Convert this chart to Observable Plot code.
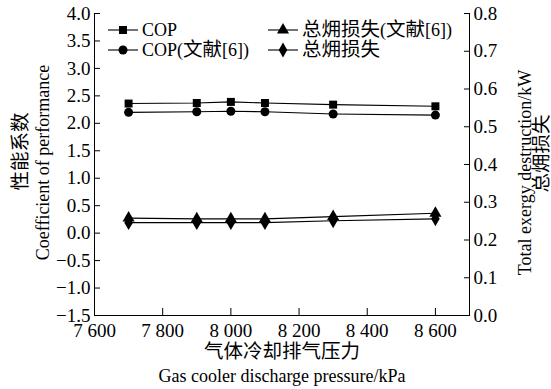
<!DOCTYPE html>
<html><head><meta charset="utf-8">
<script src="https://cdn.jsdelivr.net/npm/d3@7"></script>
<script src="https://cdn.jsdelivr.net/npm/@observablehq/plot@0.6"></script>
<style>
body{margin:0;background:#fff;}
</style></head><body><div id="chart"></div>
<script>
// Data
const pressure = [7700, 7900, 8000, 8100, 8300, 8600];
const cop = [2.36, 2.37, 2.39, 2.37, 2.34, 2.31];
const copRef = [2.20, 2.21, 2.22, 2.21, 2.17, 2.15];
const exergyRef = [0.258, 0.256, 0.256, 0.256, 0.262, 0.271];
const exergy = [0.246, 0.246, 0.246, 0.246, 0.251, 0.256];
const xTicks = [7600, 7800, 8000, 8200, 8400, 8600];
const yLeftTicks = [-1.5, -1.0, -0.5, 0.0, 0.5, 1.0, 1.5, 2.0, 2.5, 3.0, 3.5, 4.0];
const yRightTicks = [0.0, 0.1, 0.2, 0.3, 0.4, 0.5, 0.6, 0.7, 0.8];
const seriesNames = ["COP", "COP(文献[6])", "总㶲损失(文献[6])", "总㶲损失"];
const seriesSymbols = ["square", "circle", "triangle", "diamond"];
const xDomain = [7600, 8700];
const yLeftDomain = [-1.5, 4.0];
const yRightDomain = [0.0, 0.8];

const FONT = "Liberation Serif, Times New Roman, Times, DejaVu Serif, Noto Sans CJK SC, serif";
const k = (yLeftDomain[1] - yLeftDomain[0]) / (yRightDomain[1] - yRightDomain[0]);
const toLeft = v => yLeftDomain[0] + (v - yRightDomain[0]) * k;
const fromLeft = y => yRightDomain[0] + (y - yLeftDomain[0]) / k;

const seriesValues = [cop, copRef, exergyRef.map(toLeft), exergy.map(toLeft)];
const rows = [];
seriesNames.forEach((name, i) => {
  pressure.forEach((p, j) => rows.push({series: name, symbol: seriesSymbols[i], x: p, y: seriesValues[i][j]}));
});

const fmt1 = d3.format(".1f");
const fmtX = d => d3.format(",")(d).replace(",", " ");
const labelStyle = {fontSize: 18, fontFamily: FONT, textAnchor: "middle", lineAnchor: "middle"};
const cjkStyle = {...labelStyle, fontSize: 19.5};

const chart = Plot.plot({
  width: 551,
  height: 389,
  marginTop: 13,
  marginBottom: 74,
  marginLeft: 94,
  marginRight: 82,
  style: {fontFamily: FONT, fontSize: "19px", background: "white", color: "black"},
  x: {domain: xDomain, label: null},
  y: {domain: yLeftDomain, label: null},
  symbol: {domain: seriesSymbols, range: seriesSymbols},
  marks: [
    Plot.ruleX(xDomain, {stroke: "black", strokeWidth: 1}),
    Plot.ruleY([yLeftDomain[0]], {stroke: "black", strokeWidth: 1}),
    Plot.axisX(xTicks, {tickSize: -7, tickPadding: 15, tickFormat: fmtX, fontSize: 19, fontFamily: FONT}),
    Plot.axisY(yLeftTicks, {anchor: "left", tickSize: -6, tickPadding: 10, tickFormat: fmt1, fontSize: 19, fontFamily: FONT}),
    Plot.axisY(yRightTicks.map(toLeft), {anchor: "right", tickSize: -6, tickPadding: 10, tickFormat: d => fmt1(fromLeft(d)), fontSize: 19, fontFamily: FONT}),
    Plot.line(rows, {x: "x", y: "y", z: "series", stroke: "black", strokeWidth: 1.1}),
    Plot.dot(rows, {x: "x", y: "y", symbol: "symbol", fill: "black", stroke: "none", r: 4.5}),
    Plot.text(["气体冷却排气压力"], {frameAnchor: "bottom", dy: 36, ...cjkStyle}),
    Plot.text(["Gas cooler discharge pressure/kPa"], {frameAnchor: "bottom", dy: 61, ...labelStyle}),
    Plot.text(["性能系数"], {frameAnchor: "left", rotate: -90, dx: -74, dy: -13, ...cjkStyle}),
    Plot.text(["Coefficient of performance"], {frameAnchor: "left", rotate: -90, dx: -51, dy: -2, ...labelStyle}),
    Plot.text(["Total exergy destruction/kW"], {frameAnchor: "right", rotate: -90, dx: 56, dy: 8, ...labelStyle}),
    Plot.text(["总㶲损失"], {frameAnchor: "right", rotate: -90, dx: 72, dy: -11, ...cjkStyle})
  ]
});
document.getElementById("chart").appendChild(chart);

// Legend inside the plot area
const svg = d3.select(chart);
const symMap = {square: d3.symbolSquare, circle: d3.symbolCircle, triangle: d3.symbolTriangle, diamond: d3.symbolDiamond};
const legendPos = [[108, 30], [108, 50], [268, 30], [268, 50]];
const lg = svg.append("g").attr("font-family", FONT).attr("font-size", 18).attr("text-anchor", "start");
const cjkRe = /([\u3400-\u9fff]+)/;
seriesNames.forEach((name, i) => {
  const [x0, y0] = legendPos[i];
  const g = lg.append("g").attr("transform", `translate(${x0},${y0})`);
  g.append("line").attr("x1", 0).attr("x2", 30).attr("y1", 0).attr("y2", 0).attr("stroke", "black").attr("stroke-width", 1.1);
  g.append("path").attr("d", d3.symbol(symMap[seriesSymbols[i]], Math.PI * 4.5 * 4.5)()).attr("transform", "translate(15,0)").attr("fill", "black");
  const t = g.append("text").attr("x", 34).attr("y", 0).attr("dy", "0.34em").attr("fill", "black");
  name.split(cjkRe).filter(s => s.length).forEach(part => {
    const ts = t.append("tspan").text(part);
    if (cjkRe.test(part)) ts.attr("font-size", 19.5);
  });
});
</script></body></html>
